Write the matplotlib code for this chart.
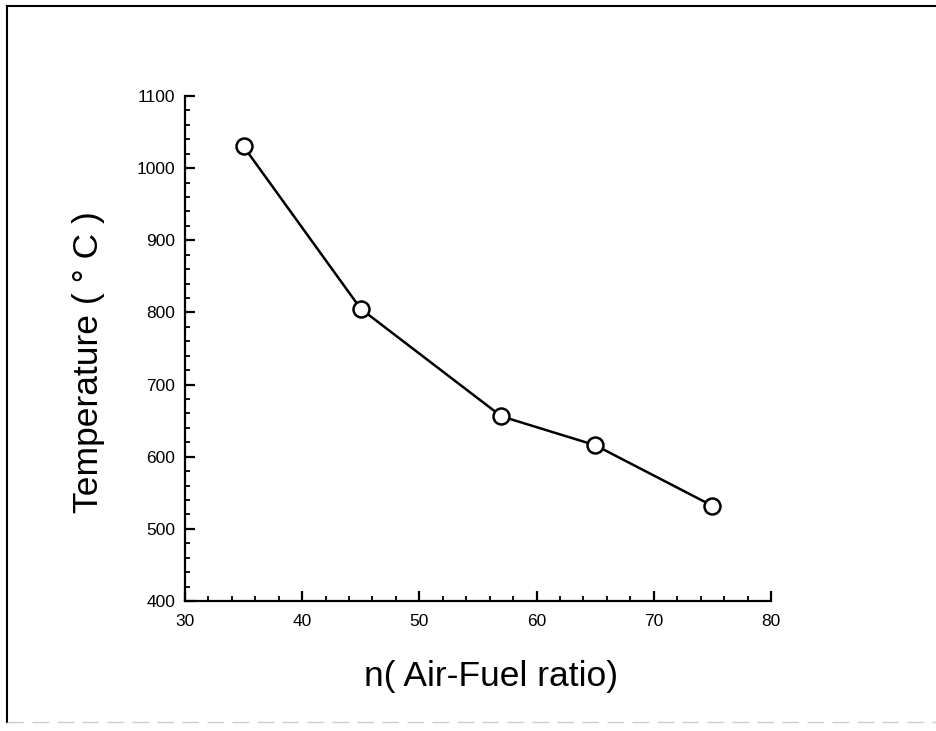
import numpy as np
import matplotlib
matplotlib.use("Agg")
import matplotlib.pyplot as plt
from matplotlib.ticker import MultipleLocator
from matplotlib.lines import Line2D

# air-fuel ratio vs temperature
air_fuel = [35, 45, 57, 65, 75]
temperature = [1030, 805, 656, 616, 532]

plt.rcParams['font.family'] = ['Liberation Sans', 'DejaVu Sans']

fig = plt.figure(figsize=(9.37, 7.31), dpi=100)
ax = fig.add_axes([0.1974, 0.1778, 0.6254, 0.6909])

ax.plot(air_fuel, temperature, color='black', linewidth=1.8,
        marker='o', markersize=11.5, markerfacecolor='white',
        markeredgecolor='black', markeredgewidth=1.8, clip_on=False)

ax.set_xlim(30, 80)
ax.set_ylim(400, 1100)
ax.xaxis.set_major_locator(MultipleLocator(10))
ax.xaxis.set_minor_locator(MultipleLocator(2))
ax.yaxis.set_major_locator(MultipleLocator(100))
ax.yaxis.set_minor_locator(MultipleLocator(20))

for side in ['top', 'right']:
    ax.spines[side].set_visible(False)
for side in ['left', 'bottom']:
    ax.spines[side].set_linewidth(1.6)

ax.tick_params(which='major', direction='in', length=7, width=1.6,
               labelsize=12.5)
ax.tick_params(axis='x', which='major', pad=9)
ax.tick_params(axis='y', which='major', pad=7)
ax.tick_params(which='minor', direction='in', length=3.5, width=1.3)

ax.set_xlabel('n( Air-Fuel ratio)', fontsize=25.5)
ax.set_ylabel('Temperature ( ° C )', fontsize=25.5)
ax.xaxis.set_label_coords(0.522, -0.117)
ax.yaxis.set_label_coords(-0.1365, 0.473)

# page frame around the figure
fig.add_artist(Line2D([0.0075, 0.0075], [0.012, 0.992], transform=fig.transFigure,
                      color='black', linewidth=1.5))
fig.add_artist(Line2D([0.0075, 1.0], [0.992, 0.992], transform=fig.transFigure,
                      color='black', linewidth=1.5))
fig.add_artist(Line2D([0.0075, 1.0], [0.012, 0.012], transform=fig.transFigure,
                      color='#cccccc', linewidth=1.0, linestyle=(0, (12, 6))))

fig.savefig('out.png', dpi=100)
